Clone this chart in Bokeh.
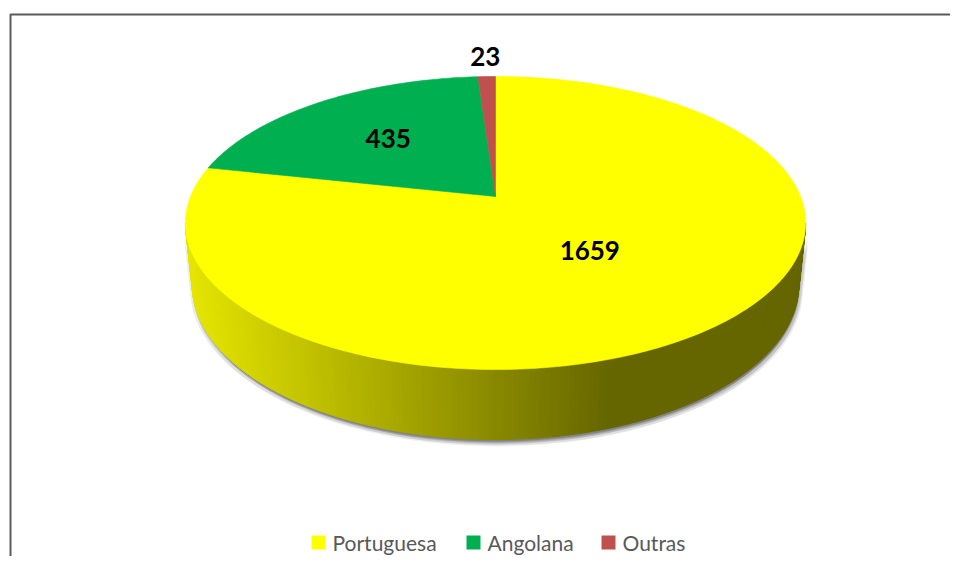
import math
import numpy as np
from bokeh.plotting import figure
from bokeh.models import Range1d
from bokeh.core.properties import value
from bokeh.embed import file_html
from bokeh.resources import INLINE

# ---- data ----
categories = ["Portuguesa", "Angolana", "Outras"]
values = [1659, 435, 23]
colors = ["#FFFF00", "#00B050", "#C0504D"]

# ---- layout / style ----
W, H = 950, 556
CX, CY = 495.0, 196.0          # screen position of pie centre
DIST = 4.895                   # camera distance (in pie radii)
PHI = math.asin(0.4646)        # elevation
FOC = 1493.0                   # focal length in px
THICK = 0.232                  # pie thickness (radii)
label_r = [0.46, 0.58, 1.2]    # radial placement factor of each data label
legend_x = [318, 473, 608]
legend_y = 542

S, C = math.sin(PHI), math.cos(PHI)


def proj(X, Y, Z):
    X = np.asarray(X, float); Z = np.asarray(Z, float)
    depth = DIST - Y * S + Z * C
    return CX + FOC * X / depth, CY - FOC * (Y * C + Z * S) / depth


p = figure(width=W, height=H, output_backend="svg", toolbar_location=None,
           x_range=Range1d(0, W), y_range=Range1d(H, 0),
           min_border=0)
p.axis.visible = False
p.grid.visible = False
p.outline_line_color = None
p.background_fill_color = "#FFFFFF"
p.border_fill_color = "#FFFFFF"

# chart-area frame
p.line([10, 10, W + 20], [H + 20, 14, 14], line_color="#5a5a5a", line_width=2)

total = float(sum(values))
bounds = np.concatenate([[0.0], np.cumsum(values) / total * 2 * np.pi])


def slice_of(theta):
    for i in range(len(values)):
        if bounds[i] <= theta < bounds[i + 1]:
            return i
    return len(values) - 1


# ---- shadow of the side ----
zs = -1.0 / (DIST * C)
a0 = math.acos(zs)
a1 = 2 * math.pi - a0
arc = np.linspace(a0, a1, 120)
tx, ty = proj(np.sin(arc), 0.0, np.cos(arc))
bx, by = proj(np.sin(arc), -THICK, np.cos(arc))
sil_x = np.concatenate([tx, bx[::-1]])
sil_y = np.concatenate([ty, by[::-1]])
for dx, dy, al in [(1, 7, 0.05), (4, 6, 0.07), (-2, 5, 0.07), (3, 4, 0.12),
                   (0, 3, 0.14), (1, 2, 0.16)]:
    p.patch(list(sil_x + dx), list(sil_y + dy), fill_color="black", fill_alpha=al,
            line_color=None)

# ---- side strips ----
xs_list, ys_list, cols = [], [], []
steps = np.linspace(a0 - 0.05, a1 + 0.05, 200)
for t0, t1 in zip(steps[:-1], steps[1:]):
    x0t, y0t = proj(math.sin(t0), 0.0, math.cos(t0))
    x1t, y1t = proj(math.sin(t1), 0.0, math.cos(t1))
    x0b, y0b = proj(math.sin(t0), -THICK, math.cos(t0))
    x1b, y1b = proj(math.sin(t1), -THICK, math.cos(t1))
    xs_list.append([float(x0t), float(x1t), float(x1b), float(x0b)])
    ys_list.append([float(y0t), float(y1t), float(y1b), float(y0b)])
    base = colors[slice_of(0.5 * (t0 + t1) % (2 * np.pi))]
    r, g, b = int(base[1:3], 16), int(base[3:5], 16), int(base[5:7], 16)
    xm = 0.5 * (float(x0t) + float(x1t))
    f = min(max((xm - 190.0) / (610.0 - 190.0), 0.0), 1.0)
    k = 0.90 - 0.50 * f
    cols.append("#%02x%02x%02x" % (int(r * k), int(g * k), int(b * k)))
p.patches(xs_list, ys_list, fill_color=cols, line_color=cols, line_width=1)

# ---- top face ----
for i in range(len(values)):
    n = max(int((bounds[i + 1] - bounds[i]) / (2 * np.pi) * 400), 4)
    th = np.linspace(bounds[i], bounds[i + 1], n)
    ax, ay = proj(np.sin(th), 0.0, np.cos(th))
    px = [CX] + list(ax) + [CX]
    py = [CY] + list(ay) + [CY]
    p.patch(px, py, fill_color=colors[i], line_color=colors[i], line_width=0.6)

# ---- data labels ----
lx, ly = [], []
for i in range(len(values)):
    mid = 0.5 * (bounds[i] + bounds[i + 1])
    x, y = proj(label_r[i] * math.sin(mid), 0.0, label_r[i] * math.cos(mid))
    lx.append(float(x)); ly.append(float(y))
p.text(lx, ly, text=[str(v) for v in values], text_font=value("Lato"),
       text_font_style="bold", text_font_size="26px", text_color="black",
       text_align="center", text_baseline="middle")

# ---- legend ----
p.rect(legend_x, [legend_y] * 3, width=14, height=14, fill_color=colors,
       line_color=None)
p.text([x + 14 for x in legend_x], [legend_y] * 3, text=categories,
       text_font=value("Lato"), text_font_size="21px", text_color="#595959",
       text_align="left", text_baseline="middle")

open("out.html", "w").write(file_html(p, INLINE))
